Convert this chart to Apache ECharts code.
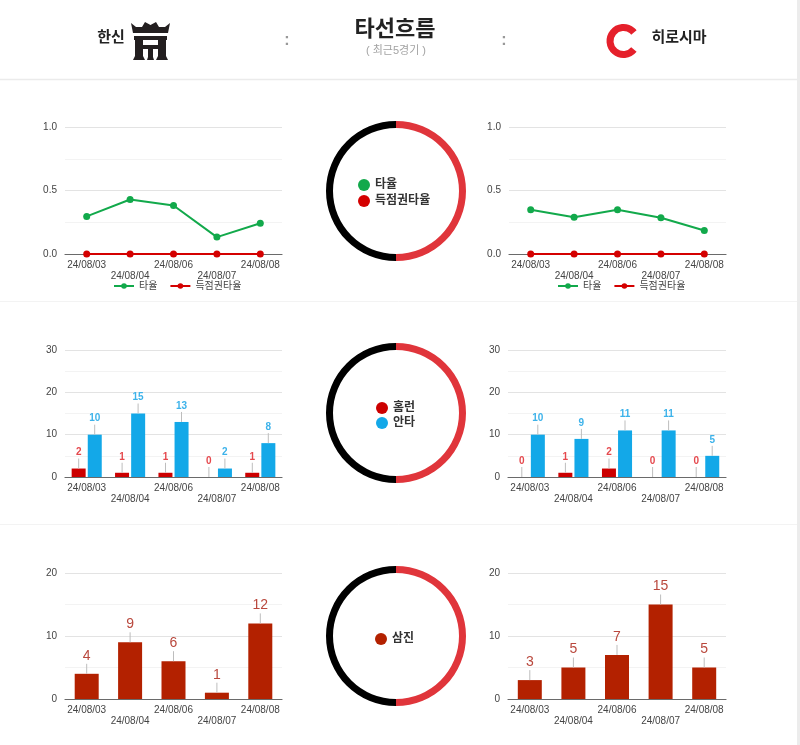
<!DOCTYPE html>
<html>
<head>
<meta charset="utf-8">
<script src="https://cdn.jsdelivr.net/npm/echarts@6/dist/echarts.min.js"></script>
<style>
  html, body { margin: 0; padding: 0; background: #fff; }
  #flowChart { width: 800px; height: 745px; }
</style>
</head>
<body>
<div id="flowChart"></div>
<script>
  // 최근 5경기 날짜
  const dates = ['24/08/03', '24/08/04', '24/08/06', '24/08/07', '24/08/08'];

  // 타율 / 득점권타율
  const hanshinAvg = [0.296, 0.429, 0.382, 0.133, 0.242];
  const hanshinRispAvg = [0, 0, 0, 0, 0];
  const hiroshimaAvg = [0.349, 0.290, 0.349, 0.286, 0.185];
  const hiroshimaRispAvg = [0, 0, 0, 0, 0];

  // 홈런 / 안타
  const hanshinHR = [2, 1, 1, 0, 1];
  const hanshinHits = [10, 15, 13, 2, 8];
  const hiroshimaHR = [0, 1, 2, 0, 0];
  const hiroshimaHits = [10, 9, 11, 11, 5];

  // 삼진
  const hanshinSO = [4, 9, 6, 1, 12];
  const hiroshimaSO = [3, 5, 7, 15, 5];

  // 축 범위
  const avgAxis = { max: 1, interval: 0.5 };
  const hitAxis = { max: 30, interval: 10 };
  const soAxis = { max: 20, interval: 10 };

  // 가운데 링 (한신 : 히로시마)
  const ringShares = [1, 1];

  const FONT = "'Liberation Sans', 'Noto Sans CJK KR', sans-serif";
  const GREEN = '#12a94b', RED = '#d40000', BLUE = '#13a8e8', SO_RED = '#b32100';

  const chart = echarts.init(document.getElementById('flowChart'));

  const grids = [
    { left: 65, top: 127, width: 217, height: 127 },
    { left: 509, top: 127, width: 217, height: 127 },
    { left: 65, top: 350, width: 217, height: 127 },
    { left: 508, top: 350, width: 218, height: 127 },
    { left: 65, top: 573, width: 217, height: 126 },
    { left: 508, top: 573, width: 218, height: 126 }
  ];

  const xAxes = grids.map((g, i) => ({
    type: 'category',
    gridIndex: i,
    data: dates,
    axisTick: { show: false },
    axisLine: { lineStyle: { color: '#6a6a6a', width: 1.2 } },
    axisLabel: {
      interval: 0,
      color: '#444',
      fontSize: 10,
      lineHeight: 10.5,
      margin: 6,
      formatter: (v, idx) => (idx % 2 ? '\n' + v : v)
    }
  }));

  function yAxis(i, axis, digits) {
    return {
      type: 'value',
      gridIndex: i,
      min: 0,
      max: axis.max,
      interval: axis.interval,
      axisLine: { show: false },
      axisTick: { show: false },
      axisLabel: {
        color: '#444',
        fontSize: 10,
        margin: 8,
        formatter: v => v.toFixed(digits)
      },
      splitLine: { lineStyle: { color: '#e3e3e3' } },
      minorTick: { show: false, splitNumber: 2 },
      minorSplitLine: { show: true, lineStyle: { color: '#f3f3f3' } }
    };
  }

  const yAxes = [
    yAxis(0, avgAxis, 1), yAxis(1, avgAxis, 1),
    yAxis(2, hitAxis, 0), yAxis(3, hitAxis, 0),
    yAxis(4, soAxis, 0), yAxis(5, soAxis, 0)
  ];

  function lineSeries(name, data, idx, color) {
    return {
      name: name,
      type: 'line',
      xAxisIndex: idx,
      yAxisIndex: idx,
      data: data,
      symbol: 'circle',
      symbolSize: 7,
      itemStyle: { color: color },
      lineStyle: { color: color, width: 2 },
      z: 3
    };
  }

  function barSeries(name, data, idx, color, width, gap) {
    return {
      name: name,
      type: 'bar',
      xAxisIndex: idx,
      yAxisIndex: idx,
      data: data,
      barWidth: width,
      barGap: gap,
      itemStyle: { color: color }
    };
  }

  // 막대 위 값 + 짧은 회색 선
  function stemLabels(name, data, idx, offset, color, font) {
    return {
      name: name + '-label',
      type: 'custom',
      xAxisIndex: idx,
      yAxisIndex: idx,
      silent: true,
      z: 4,
      data: data.map((v, i) => [i, v]),
      renderItem: (params, api) => {
        const p = api.coord([api.value(0), api.value(1)]);
        const x = p[0] + offset;
        const top = p[1] - 10;
        return {
          type: 'group',
          children: [
            { type: 'line', shape: { x1: x, y1: p[1], x2: x, y2: top }, style: { stroke: '#bdbdbd', lineWidth: 1 } },
            {
              type: 'text',
              style: {
                text: String(api.value(1)),
                x: x, y: top - 1,
                align: 'center', verticalAlign: 'bottom',
                fill: color, font: font
              }
            }
          ]
        };
      }
    };
  }

  function ring(cy) {
    return {
      type: 'pie',
      center: [396, cy],
      radius: [63, 70],
      startAngle: 90,
      clockwise: true,
      silent: true,
      label: { show: false },
      labelLine: { show: false },
      emphasis: { disabled: true },
      data: [
        { name: '히로시마', value: ringShares[1], itemStyle: { color: '#e0353b' } },
        { name: '한신', value: ringShares[0], itemStyle: { color: '#000' } }
      ]
    };
  }

  const smallLabel = 'bold 10px ' + FONT;
  const bigLabel = '14px ' + FONT;

  const series = [
    lineSeries('타율', hanshinAvg, 0, GREEN),
    lineSeries('득점권타율', hanshinRispAvg, 0, RED),
    lineSeries('타율', hiroshimaAvg, 1, GREEN),
    lineSeries('득점권타율', hiroshimaRispAvg, 1, RED),

    barSeries('홈런', hanshinHR, 2, '#cc0000', 14, '15%'),
    barSeries('안타', hanshinHits, 2, BLUE, 14, '15%'),
    barSeries('홈런', hiroshimaHR, 3, '#cc0000', 14, '15%'),
    barSeries('안타', hiroshimaHits, 3, BLUE, 14, '15%'),
    stemLabels('홈런', hanshinHR, 2, -8, '#e5484d', smallLabel),
    stemLabels('안타', hanshinHits, 2, 8, '#3cb2ea', smallLabel),
    stemLabels('홈런', hiroshimaHR, 3, -8, '#e5484d', smallLabel),
    stemLabels('안타', hiroshimaHits, 3, 8, '#3cb2ea', smallLabel),

    barSeries('삼진', hanshinSO, 4, SO_RED, 24, '0%'),
    barSeries('삼진', hiroshimaSO, 5, SO_RED, 24, '0%'),
    stemLabels('삼진', hanshinSO, 4, 0, '#b9483d', bigLabel),
    stemLabels('삼진', hiroshimaSO, 5, 0, '#b9483d', bigLabel),

    ring(191), ring(413), ring(636)
  ];

  const lineLegend = left => ({
    left: left, top: 281,
    padding: 0,
    data: ['타율', '득점권타율'],
    itemWidth: 20, itemHeight: 7, itemGap: 12,
    textStyle: { fontSize: 10, color: '#444' },
    selectedMode: false
  });

  const dotLegend = (left, top, names, gap) => ({
    left: left, top: top,
    padding: 0,
    orient: 'vertical',
    data: names,
    icon: 'circle',
    itemWidth: 12, itemHeight: 12, itemGap: gap,
    textStyle: { fontSize: 12, fontWeight: 'bold', color: '#333' },
    selectedMode: false
  });

  chart.setOption({
    animation: false,
    textStyle: { fontFamily: FONT },
    grid: grids,
    xAxis: xAxes,
    yAxis: yAxes,
    legend: [
      lineLegend(113),
      lineLegend(557),
      dotLegend(358, 179, ['타율', '득점권타율'], 4),
      dotLegend(376, 402, ['홈런', '안타'], 3),
      dotLegend(375, 633, ['삼진'], 4)
    ],
    graphic: [
      // 테두리
      { type: 'rect', shape: { x: 797, y: 0, width: 3, height: 745 }, style: { fill: '#ececec' }, silent: true },
      { type: 'line', shape: { x1: 0, y1: 79.5, x2: 797, y2: 79.5 }, style: { stroke: '#ebebeb', lineWidth: 1.5 }, silent: true },
      { type: 'line', shape: { x1: 0, y1: 301.5, x2: 797, y2: 301.5 }, style: { stroke: '#f3f3f3', lineWidth: 1 }, silent: true },
      { type: 'line', shape: { x1: 0, y1: 524.5, x2: 797, y2: 524.5 }, style: { stroke: '#f3f3f3', lineWidth: 1 }, silent: true },

      // 제목
      { type: 'text', x: 395, y: 30, style: { text: '타선흐름', font: 'bold 22px ' + FONT, fill: '#222', align: 'center', verticalAlign: 'middle' } },
      { type: 'text', x: 396, y: 51, style: { text: '( 최근5경기 )', font: '11px ' + FONT, fill: '#a3a3a3', align: 'center', verticalAlign: 'middle' } },
      { type: 'text', x: 287, y: 41, style: { text: ':', font: 'bold 16px ' + FONT, fill: '#999', align: 'center', verticalAlign: 'middle' } },
      { type: 'text', x: 504, y: 41, style: { text: ':', font: 'bold 16px ' + FONT, fill: '#999', align: 'center', verticalAlign: 'middle' } },

      // 한신
      { type: 'text', x: 111, y: 38, style: { text: '한신', font: 'bold 15px ' + FONT, fill: '#222', align: 'center', verticalAlign: 'middle' } },
      {
        type: 'group', x: 131, y: 20,
        children: [
          { type: 'polygon', shape: { points: [[0, 3], [5, 7], [11, 7], [14, 2], [19.5, 5], [25, 2], [28, 7], [34, 7], [39, 3], [37, 13], [2, 13]] }, style: { fill: '#231f20' } },
          { type: 'rect', shape: { x: 3, y: 16, width: 33, height: 4 }, style: { fill: '#231f20' } },
          { type: 'polygon', shape: { points: [[4, 20], [12, 20], [12, 36], [14, 40], [2, 40], [4, 36]] }, style: { fill: '#231f20' } },
          { type: 'polygon', shape: { points: [[27, 20], [35, 20], [35, 36], [37, 40], [25, 40], [27, 36]] }, style: { fill: '#231f20' } },
          { type: 'rect', shape: { x: 12, y: 25, width: 15, height: 4 }, style: { fill: '#231f20' } },
          { type: 'polygon', shape: { points: [[17, 29], [22, 29], [22, 37], [23, 40], [16, 40], [17, 37]] }, style: { fill: '#231f20' } }
        ]
      },

      // 히로시마
      {
        type: 'arc',
        shape: { cx: 623.5, cy: 41, r: 13.5, startAngle: Math.PI * 0.22, endAngle: Math.PI * 1.78, clockwise: true },
        style: { stroke: '#e5202b', lineWidth: 7, fill: null }
      },
      { type: 'text', x: 679, y: 38, style: { text: '히로시마', font: 'bold 15px ' + FONT, fill: '#222', align: 'center', verticalAlign: 'middle' } }
    ],
    series: series
  });
</script>
</body>
</html>
